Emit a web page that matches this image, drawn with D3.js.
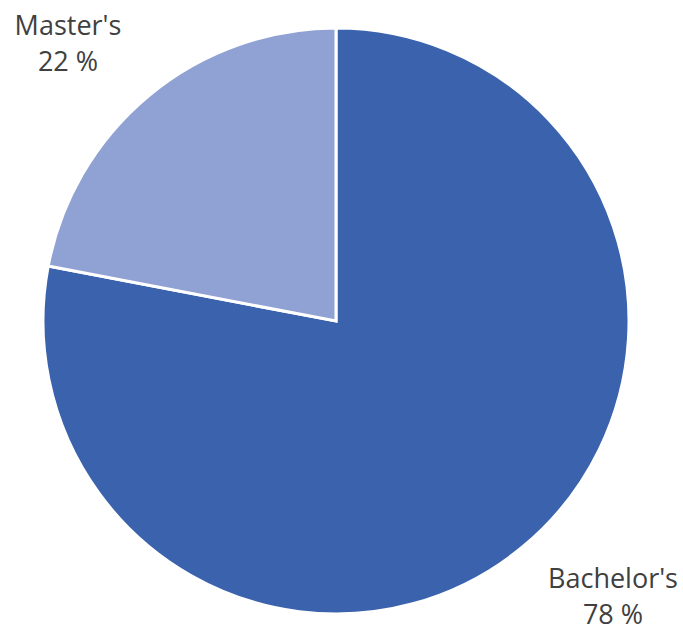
<!DOCTYPE html>
<html>
<head>
<meta charset="utf-8">
<script src="https://cdn.jsdelivr.net/npm/d3@7"></script>
<style>
  html, body { margin: 0; padding: 0; background: #fff; }
  svg { display: block; }
  text { font-family: "Open Sans", "Noto Sans", sans-serif; fill: #404040; }
</style>
</head>
<body>
<svg id="chart" width="683" height="634"></svg>
<script>
// Degree distribution
const categories = ["Bachelor's", "Master's"];
const values = [78, 22];
const colors = ["#3B62AD", "#8FA2D3"];

const width = 683, height = 634;
const cx = 336, cy = 321, radius = 293;

const svg = d3.select("#chart");
const g = svg.append("g").attr("transform", `translate(${cx},${cy})`);

const data = categories.map((c, i) => ({ name: c, value: values[i], color: colors[i] }));

const pie = d3.pie().value(d => d.value).sort(null);
const arc = d3.arc().innerRadius(0).outerRadius(radius);

const arcs = pie(data);

g.selectAll("path")
  .data(arcs)
  .join("path")
  .attr("d", arc)
  .attr("fill", d => d.data.color)
  .attr("stroke", "#fff")
  .attr("stroke-width", 3)
  .attr("stroke-linejoin", "miter");

// Labels placed outside the pie, near each slice
const labelPos = {
  "Bachelor's": [613, 588],
  "Master's": [68, 35]
};

const labels = svg.selectAll("text.lbl")
  .data(arcs)
  .join("text")
  .attr("class", "lbl")
  .attr("text-anchor", "middle")
  .attr("font-size", 27)
  .attr("x", d => labelPos[d.data.name][0])
  .attr("y", d => labelPos[d.data.name][1]);

labels.append("tspan")
  .attr("x", d => labelPos[d.data.name][0])
  .text(d => d.data.name);
labels.append("tspan")
  .attr("x", d => labelPos[d.data.name][0])
  .attr("dy", 36)
  .text(d => `${d.data.value} %`);
</script>
</body>
</html>
